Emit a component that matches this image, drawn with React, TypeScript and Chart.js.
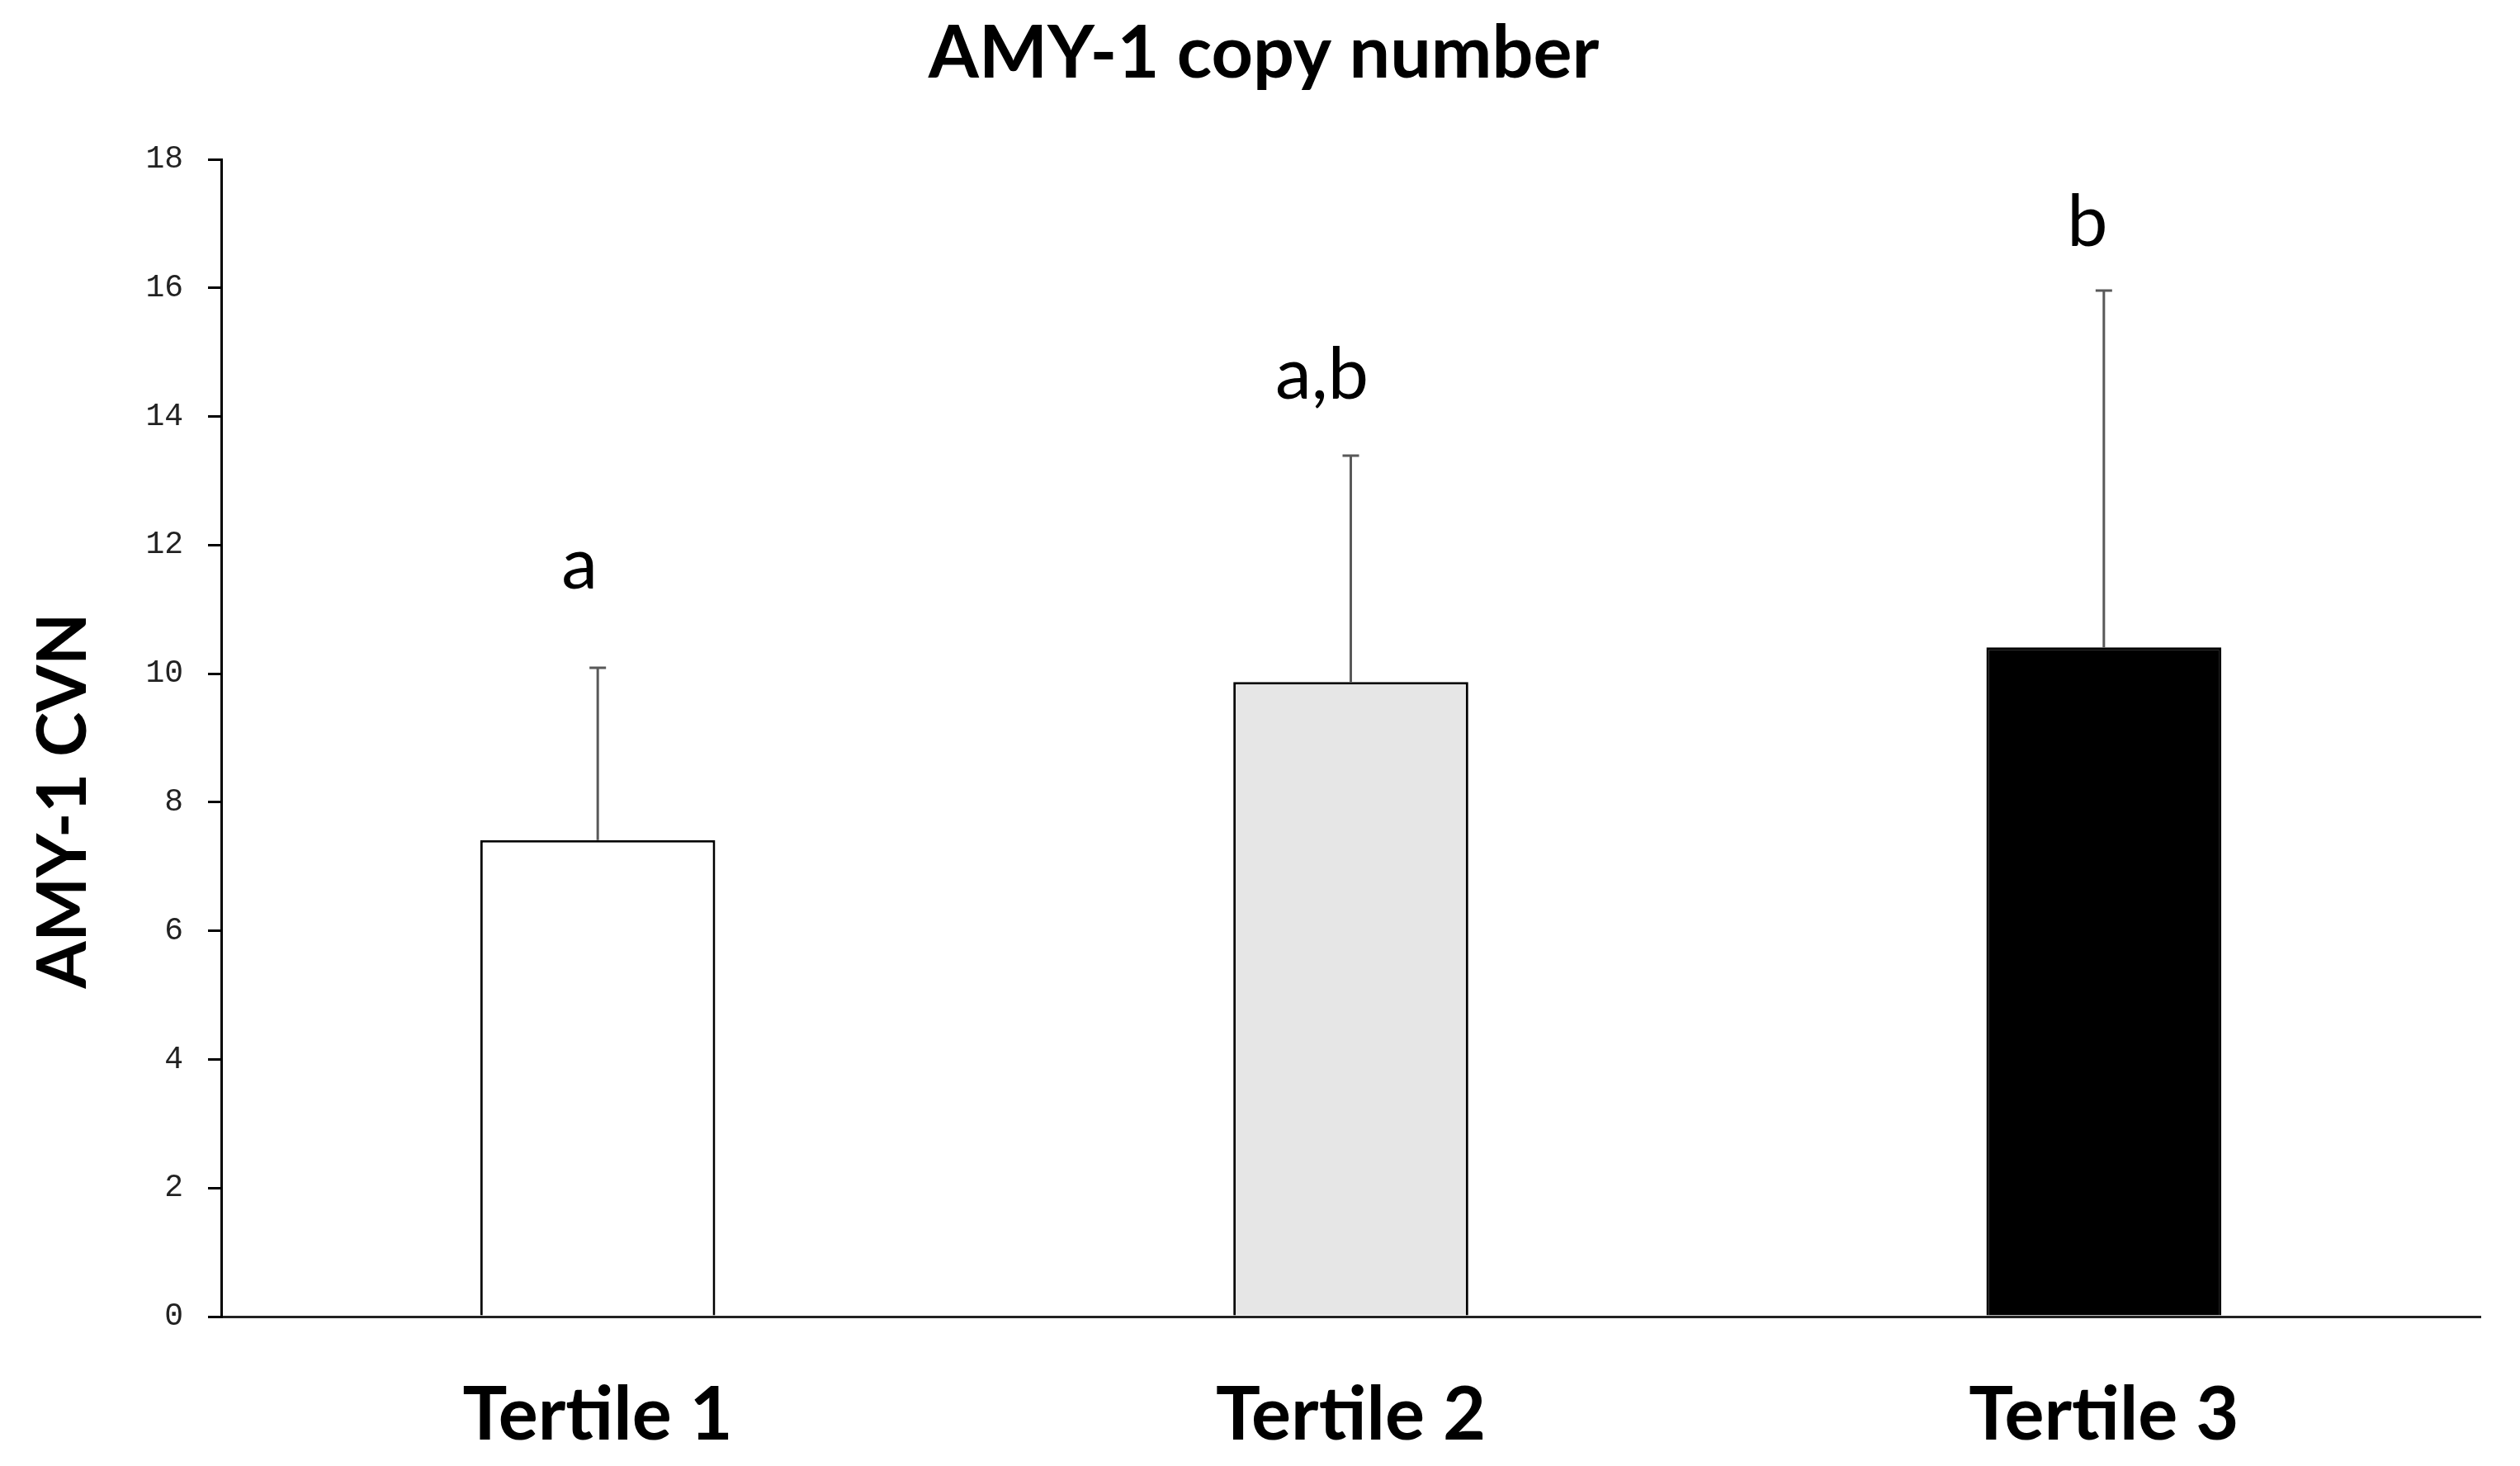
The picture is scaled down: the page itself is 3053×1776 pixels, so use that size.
import React, { useEffect, useRef } from "react";
import { Chart, registerables } from "chart.js";

Chart.register(...registerables);

const chartTitle = "AMY-1 copy number";
const yAxisTitle = "AMY-1 CVN";
const categories = ["Tertile 1", "Tertile 2", "Tertile 3"];
const meanValues = [7.41, 9.87, 10.41];
const sdValues = [2.68, 3.52, 5.55];
const barColors = ["#ffffff", "#e6e6e6", "#000000"];
const significanceLabels = ["a", "a,b", "b"];
const significanceY = [11.32, 14.28, 16.65];
const yTickValues = [0, 2, 4, 6, 8, 10, 12, 14, 16, 18];

const BOLD_FAMILY = "Lato, 'Noto Sans', sans-serif";

export default function App() {
  const canvasRef = useRef<HTMLCanvasElement | null>(null);

  useEffect(() => {
    const canvas = canvasRef.current;
    if (!canvas) return;

    const errorBarPlugin = {
      id: "errorBars",
      afterDatasetsDraw(chart: any) {
        const ctx = chart.ctx;
        const meta = chart.getDatasetMeta(0);
        const yScale = chart.scales.y;
        ctx.save();
        ctx.strokeStyle = "#595959";
        ctx.lineWidth = 3;
        meta.data.forEach((bar: any, i: number) => {
          const x = bar.x;
          const base = yScale.getPixelForValue(meanValues[i]);
          const top = yScale.getPixelForValue(meanValues[i] + sdValues[i]);
          ctx.beginPath();
          ctx.moveTo(x, base);
          ctx.lineTo(x, top);
          ctx.moveTo(x - 10, top);
          ctx.lineTo(x + 10, top);
          ctx.stroke();
        });
        ctx.restore();
      },
    };

    const annotationPlugin = {
      id: "annotations",
      afterDraw(chart: any) {
        const ctx = chart.ctx;
        const meta = chart.getDatasetMeta(0);
        const yScale = chart.scales.y;
        const xOffsets = [-22, -35, -20];
        ctx.save();
        ctx.fillStyle = "#000000";
        // chart title
        ctx.font = "bold 88px " + BOLD_FAMILY;
        ctx.textAlign = "center";
        ctx.textBaseline = "middle";
        ctx.fillText(chartTitle, 1531, 66);
        // significance letters
        ctx.font = "88px Lato";
        ctx.textBaseline = "alphabetic";
        meta.data.forEach((bar: any, i: number) => {
          ctx.fillText(
            significanceLabels[i],
            bar.x + xOffsets[i],
            yScale.getPixelForValue(significanceY[i])
          );
        });
        // y-axis title
        ctx.translate(78, 970);
        ctx.rotate(-Math.PI / 2);
        ctx.font = "bold 82px " + BOLD_FAMILY;
        ctx.textBaseline = "middle";
        ctx.fillText(yAxisTitle, 0, 0);
        ctx.restore();
      },
    };

    const chart = new Chart(canvas, {
      type: "bar",
      data: {
        labels: categories,
        datasets: [
          {
            data: meanValues,
            backgroundColor: barColors,
            borderColor: "#000000",
            borderWidth: 3,
            barPercentage: 0.312,
            categoryPercentage: 1,
          },
        ],
      },
      options: {
        responsive: false,
        animation: false,
        devicePixelRatio: 1,
        layout: { padding: { top: 193, right: 48, bottom: 0, left: 0 } },
        plugins: {
          legend: { display: false },
          tooltip: { enabled: false },
          title: { display: false },
        },
        scales: {
          x: {
            grid: { display: false },
            border: { display: true, color: "#222222", width: 3 },
            ticks: {
              color: "#000000",
              padding: 58,
              font: { family: BOLD_FAMILY, size: 90, weight: "bold", lineHeight: 1.2 },
            },
            afterFit(scale: any) {
              scale.height = 181;
            },
          },
          y: {
            min: 0,
            max: 18,
            afterBuildTicks(scale: any) {
              scale.ticks = yTickValues.map((v) => ({ value: v }));
            },
            grid: {
              display: true,
              drawOnChartArea: false,
              drawTicks: true,
              tickLength: 16,
              color: "#000000",
              lineWidth: 3,
            },
            border: { display: true, color: "#000000", width: 3 },
            ticks: {
              color: "#222222",
              padding: 30,
              font: { family: "'Liberation Mono', 'DejaVu Sans Mono', monospace", size: 38 },
            },
            afterFit(scale: any) {
              scale.width = 268;
            },
          },
        },
      },
      plugins: [errorBarPlugin, annotationPlugin],
    });

    return () => {
      chart.destroy();
    };
  }, []);

  return (
    <div style={{ position: "absolute", left: 0, top: 0, width: 3053, height: 1776, background: "#ffffff" }}>
      <canvas ref={canvasRef} width={3053} height={1776} style={{ display: "block" }} />
    </div>
  );
}
